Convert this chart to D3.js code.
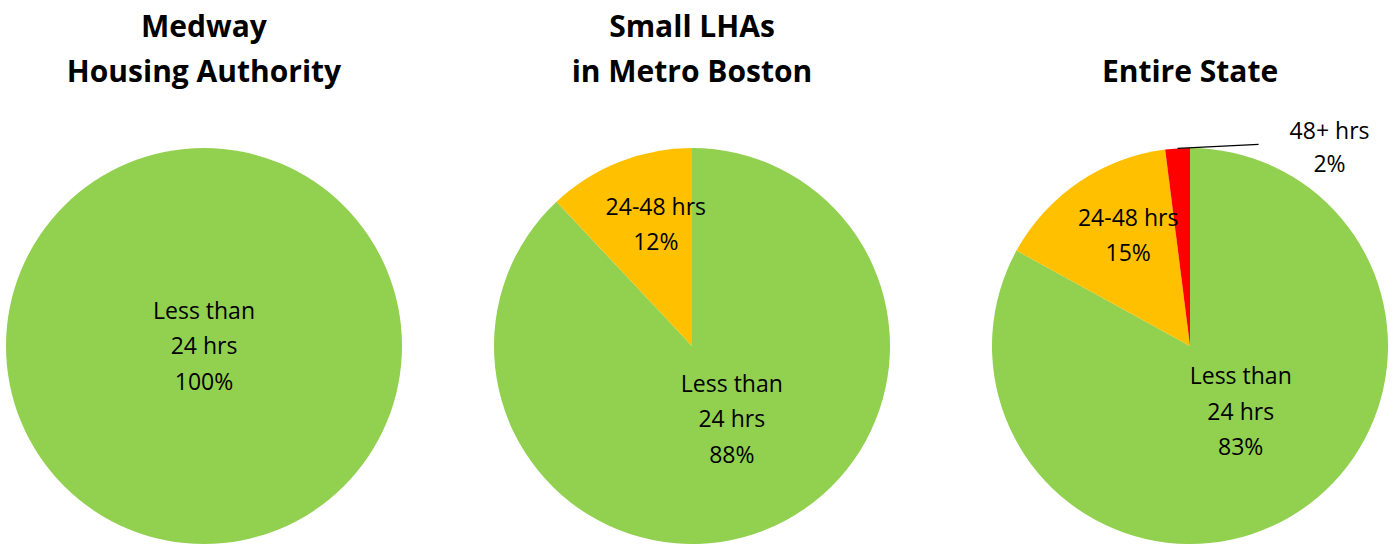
<!DOCTYPE html>
<html>
<head>
<meta charset="utf-8" />
<script src="https://d3js.org/d3.v7.min.js"></script>
<style>
  body { margin: 0; background: #fff; }
  text { font-family: 'Open Sans', Lato, 'Liberation Sans', sans-serif; }
</style>
</head>
<body>
<div id="chart"></div>
<script>
  // data
  var titles = [['Medway', 'Housing Authority'], ['Small LHAs', 'in Metro Boston'], ['Entire State']]
  var categories = ['Less than 24 hrs', '24-48 hrs', '48+ hrs']
  var medway = [100, 0, 0]
  var smallLHAs = [88, 12, 0]
  var entireState = [83, 15, 2]
  var labelLines = [['Less than', '24 hrs'], ['24-48 hrs'], ['48+ hrs']]

  var colors = ['#92D050', '#FFC000', '#FF0000']
  var series = [medway, smallLHAs, entireState]

  var width = 1394, height = 544
  var radius = 198
  var centers = [204, 692, 1190]
  var cy = 346

  // label placement (radius fraction, angle shift in degrees) per category
  var labelRadius = [0.42, 0.64]
  var labelShift = [-7, 5]

  var svg = d3.select('#chart').append('svg')
    .attr('width', width)
    .attr('height', height)

  var pie = d3.pie().sort(null).value(function (d) { return d.value })
  var arc = d3.arc().innerRadius(0).outerRadius(radius)

  series.forEach(function (vals, k) {
    var g = svg.append('g').attr('transform', 'translate(' + centers[k] + ',' + cy + ')')

    // title
    var t = svg.append('text')
      .attr('x', centers[k])
      .attr('text-anchor', 'middle')
      .attr('font-size', 30)
      .attr('font-weight', 'bold')
      .attr('fill', '#000')
    var lines = titles[k]
    var startY = lines.length == 2 ? 37 : 82
    lines.forEach(function (l, i) {
      t.append('tspan').attr('x', centers[k]).attr('y', startY + i * 45).text(l)
    })

    var data = vals.map(function (v, i) { return { cat: categories[i], value: v, idx: i } })
      .filter(function (d) { return d.value > 0 })
    var arcs = pie(data)

    g.selectAll('path')
      .data(arcs)
      .enter()
      .append('path')
      .attr('d', arc)
      .attr('fill', function (d) { return colors[d.data.idx] })

    arcs.forEach(function (a) {
      var lines = labelLines[a.data.idx].concat([a.data.value + '%'])
      var pos
      var mid = (a.startAngle + a.endAngle) / 2
      var full = a.endAngle - a.startAngle > 6.28
      var lh = 35.5
      if (full) {
        pos = [0, 0]
      } else if (a.data.idx == 2) {
        // outside label with leader line
        var p0 = [Math.sin(mid) * radius, -Math.cos(mid) * radius]
        var p1 = [p0[0] + 81, p0[1] - 4]
        g.append('line')
          .attr('x1', p0[0]).attr('y1', p0[1])
          .attr('x2', p1[0]).attr('y2', p1[1])
          .attr('stroke', '#000').attr('stroke-width', 1.2)
        pos = [p1[0] + 71, p1[1] + 3]
        lh = 33
      } else {
        var lr = radius * labelRadius[a.data.idx]
        var ang = mid + labelShift[a.data.idx] * Math.PI / 180
        pos = [Math.sin(ang) * lr, -Math.cos(ang) * lr]
      }
      var txt = g.append('text')
        .attr('text-anchor', 'middle')
        .attr('font-size', 23)
        .attr('fill', '#000')
      lines.forEach(function (l, i) {
        txt.append('tspan')
          .attr('x', pos[0])
          .attr('y', pos[1] + (i - (lines.length - 1) / 2) * lh + 8)
          .text(l)
      })
    })
  })
</script>
</body>
</html>
